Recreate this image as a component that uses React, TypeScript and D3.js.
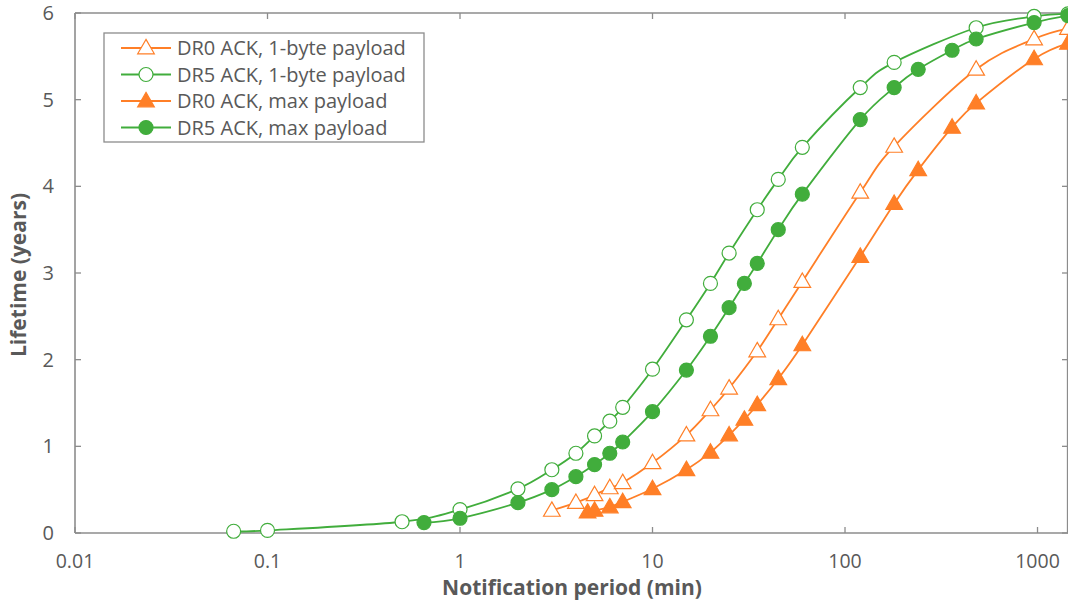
import React, { useEffect, useRef } from 'react';
import * as d3 from 'd3';

// notification periods (min) and lifetimes (years)
const dr0OneX = [3, 4, 5, 6, 7, 10, 15, 20, 25, 35, 45, 60, 120, 180, 480, 960, 1440];
const dr0OneY = [0.26, 0.35, 0.44, 0.52, 0.58, 0.81, 1.13, 1.42, 1.67, 2.1, 2.47, 2.9, 3.93, 4.46, 5.35, 5.7, 5.82];

const dr5OneX = [0.0667, 0.1, 0.5, 1, 2, 3, 4, 5, 6, 7, 10, 15, 20, 25, 35, 45, 60, 120, 180, 480, 960, 1440];
const dr5OneY = [0.02, 0.03, 0.13, 0.27, 0.51, 0.73, 0.92, 1.12, 1.29, 1.45, 1.89, 2.46, 2.88, 3.23, 3.73, 4.08, 4.45, 5.14, 5.43, 5.83, 5.96, 5.99];

const dr0MaxX = [4.6, 5, 6, 7, 10, 15, 20, 25, 30, 35, 45, 60, 120, 180, 240, 360, 480, 960, 1440];
const dr0MaxY = [0.24, 0.26, 0.3, 0.36, 0.51, 0.73, 0.93, 1.13, 1.31, 1.48, 1.78, 2.17, 3.19, 3.8, 4.19, 4.68, 4.96, 5.47, 5.65];

const dr5MaxX = [0.65, 1, 2, 3, 4, 5, 6, 7, 10, 15, 20, 25, 30, 35, 45, 60, 120, 180, 240, 360, 480, 960, 1440];
const dr5MaxY = [0.12, 0.17, 0.35, 0.5, 0.65, 0.79, 0.92, 1.05, 1.4, 1.88, 2.27, 2.6, 2.88, 3.11, 3.5, 3.91, 4.77, 5.14, 5.35, 5.57, 5.7, 5.89, 5.97];

const xTicks = [0.01, 0.1, 1, 10, 100, 1000];
const xTickLabels = ['0.01', '0.1', '1', '10', '100', '1000'];
const yTicks = [0, 1, 2, 3, 4, 5, 6];

const ORANGE = '#ff7f27';
const GREEN = '#41ad3c';
const TEXT = '#595959';
const AXIS = '#8c8c8c';

const series = [
  { name: 'DR0 ACK, 1-byte payload', xs: dr0OneX, ys: dr0OneY, color: ORANGE, shape: 'triangle', filled: false },
  { name: 'DR5 ACK, 1-byte payload', xs: dr5OneX, ys: dr5OneY, color: GREEN, shape: 'circle', filled: false },
  { name: 'DR0 ACK, max payload', xs: dr0MaxX, ys: dr0MaxY, color: ORANGE, shape: 'triangle', filled: true },
  { name: 'DR5 ACK, max payload', xs: dr5MaxX, ys: dr5MaxY, color: GREEN, shape: 'circle', filled: true },
];

const App: React.FC = () => {
  const ref = useRef<SVGSVGElement>(null);

  useEffect(() => {
    const width = 1068;
    const height = 603;
    const margin = { top: 13, right: 0, bottom: 70, left: 75 };
    const font = "'Open Sans', sans-serif";

    const svg = d3.select(ref.current);
    svg.selectAll('*').remove();

    const x = d3.scaleLog().domain([0.01, 1440]).range([margin.left, width - margin.right]);
    const y = d3.scaleLinear().domain([0, 6]).range([height - margin.bottom, margin.top]);

    const x0 = margin.left;
    const x1 = width - margin.right;
    const y0 = height - margin.bottom;
    const y1 = margin.top;

    // frame
    const frame = svg.append('g').attr('stroke', AXIS).attr('stroke-width', 1.3);
    frame.append('line').attr('x1', x0).attr('x2', x1).attr('y1', y1).attr('y2', y1);
    frame.append('line').attr('x1', x1 - 0.5).attr('x2', x1 - 0.5).attr('y1', y1).attr('y2', y0);

    // ticks pointing inward on all sides
    xTicks.forEach((t) => {
      frame.append('line').attr('x1', x(t)).attr('x2', x(t)).attr('y1', y0).attr('y2', y0 - 6);
      frame.append('line').attr('x1', x(t)).attr('x2', x(t)).attr('y1', y1).attr('y2', y1 + 6);
    });
    yTicks.forEach((t) => {
      frame.append('line').attr('x1', x0).attr('x2', x0 + 6).attr('y1', y(t)).attr('y2', y(t));
      frame.append('line').attr('x1', x1).attr('x2', x1 - 6).attr('y1', y(t)).attr('y2', y(t));
    });
    frame.append('line').attr('x1', x0).attr('x2', x1).attr('y1', y0).attr('y2', y0).attr('stroke-width', 1.6);
    frame.append('line').attr('x1', x0).attr('x2', x0).attr('y1', y1).attr('y2', y0).attr('stroke-width', 1.6);

    // tick labels
    svg
      .append('g')
      .selectAll('text')
      .data(xTicks)
      .enter()
      .append('text')
      .attr('x', (d) => x(d))
      .attr('y', y0 + 35)
      .attr('text-anchor', 'middle')
      .attr('font-family', font)
      .attr('font-size', 19.5)
      .attr('fill', TEXT)
      .text((d, i) => xTickLabels[i]);

    svg
      .append('g')
      .selectAll('text')
      .data(yTicks)
      .enter()
      .append('text')
      .attr('x', 54)
      .attr('y', (d) => y(d) + 7)
      .attr('text-anchor', 'end')
      .attr('font-family', font)
      .attr('font-size', 20)
      .attr('fill', TEXT)
      .text((d) => d);

    // axis titles
    svg
      .append('text')
      .attr('x', 572)
      .attr('y', 595)
      .attr('text-anchor', 'middle')
      .attr('font-family', font)
      .attr('font-size', 21)
      .attr('font-weight', 'bold')
      .attr('fill', TEXT)
      .text('Notification period (min)');

    svg
      .append('text')
      .attr('transform', `translate(26, ${(y0 + y1) / 2 + 2}) rotate(-90)`)
      .attr('text-anchor', 'middle')
      .attr('font-family', font)
      .attr('font-size', 21)
      .attr('font-weight', 'bold')
      .attr('fill', TEXT)
      .text('Lifetime (years)');

    const line = d3
      .line<[number, number]>()
      .x((d) => x(d[0]))
      .y((d) => y(d[1]))
      .curve(d3.curveCatmullRom.alpha(0));

    const triangle = d3.symbol(d3.symbolTriangle, 120);

    const drawMarker = (g: any, s: any, cx: number, cy: number) => {
      if (s.shape === 'circle') {
        g.append('circle')
          .attr('cx', cx)
          .attr('cy', cy)
          .attr('r', 7)
          .attr('fill', s.filled ? s.color : '#fff')
          .attr('stroke', s.color)
          .attr('stroke-width', 1.2);
      } else {
        g.append('path')
          .attr('d', triangle())
          .attr('transform', `translate(${cx},${cy + 1})`)
          .attr('fill', s.filled ? s.color : '#fff')
          .attr('stroke', s.color)
          .attr('stroke-width', 1.2);
      }
    };

    const plot = svg.append('g');
    series.forEach((s) => {
      const pts = s.xs.map((v, i) => [v, s.ys[i]] as [number, number]);
      plot
        .append('path')
        .attr('d', line(pts))
        .attr('fill', 'none')
        .attr('stroke', s.color)
        .attr('stroke-width', 1.8);
    });
    series.forEach((s) => {
      const g = plot.append('g');
      s.xs.forEach((v, i) => drawMarker(g, s, x(v), y(s.ys[i])));
    });

    // legend
    const legend = svg.append('g').attr('transform', 'translate(104, 33)');
    legend
      .append('rect')
      .attr('width', 320)
      .attr('height', 109)
      .attr('fill', '#fff')
      .attr('stroke', AXIS)
      .attr('stroke-width', 1.3);
    series.forEach((s, i) => {
      const ly = 15 + i * 26.5;
      const g = legend.append('g');
      g.append('line')
        .attr('x1', 17)
        .attr('x2', 67)
        .attr('y1', ly)
        .attr('y2', ly)
        .attr('stroke', s.color)
        .attr('stroke-width', 1.8);
      drawMarker(g, s, 42, ly);
      g.append('text')
        .attr('x', 73)
        .attr('y', ly + 7)
        .attr('font-family', font)
        .attr('font-size', 20)
        .attr('fill', TEXT)
        .text(s.name);
    });
  }, []);

  return (
    <svg
      ref={ref}
      width={1068}
      height={603}
      style={{ position: 'absolute', left: 0, top: 0, background: '#fff' }}
    />
  );
};

export default App;
